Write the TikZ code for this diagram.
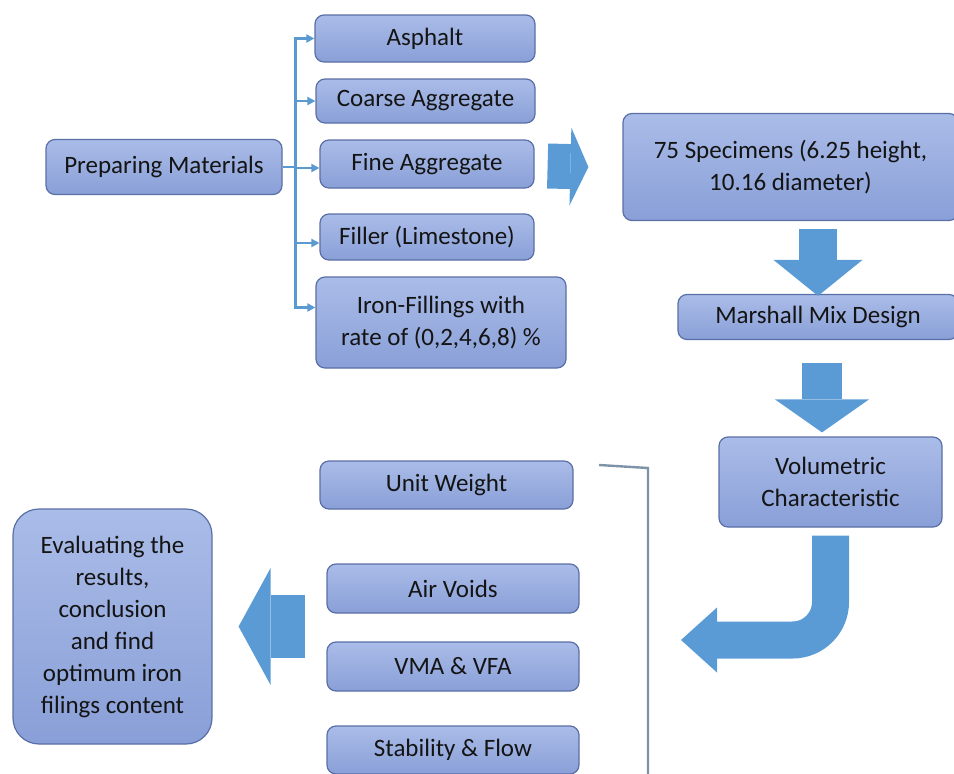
\documentclass[tikz,border=0pt]{standalone}
\usepackage{fontspec}
\setmainfont{Carlito}
\usetikzlibrary{arrows.meta}
\definecolor{textcolor}{HTML}{141414}
\definecolor{boxtop}{HTML}{AABCE8}
\definecolor{boxbottom}{HTML}{899FD7}
\definecolor{boxedge}{HTML}{5A6FA6}
\definecolor{arrowblue}{HTML}{5B9BD5}
\definecolor{linkcolor}{HTML}{5A9AD0}
\definecolor{bracketcolor}{HTML}{7D93A8}
\tikzset{
  base/.style={rounded corners=9pt, align=center, draw=boxedge, line width=1.2pt, top color=boxtop, bottom color=boxbottom, inner sep=3pt, text=textcolor, font=\fontsize{25}{32}\selectfont},
  material/.style={base, minimum width=214pt, minimum height=46pt},
  stage/.style={base, minimum width=223pt, minimum height=90pt},
  measure/.style={base, minimum width=252pt, minimum height=49pt},
  result/.style={base, rounded corners=26pt, minimum width=199pt, minimum height=235pt},
  branch/.style={-{Triangle[length=8pt,width=8pt]}, draw=linkcolor, line width=2.3pt},
  bracket/.style={draw=bracketcolor, line width=2.4pt},
  bigarrow/.style n args={3}{draw=arrowblue, line width=#1, -{Triangle[length=#2, width=#3, line width=0pt]}},
}

\begin{document}
\begin{tikzpicture}[x=1pt,y=-1pt]
  \useasboundingbox (0,0) rectangle (954,774);

  \node[base, minimum width=236pt, minimum height=55pt] (prep) at (164,167) {Preparing Materials};

  \node[material, minimum width=220pt, minimum height=47pt] (asphalt) at (425,38.5) {Asphalt};
  \node[material, minimum width=219pt, minimum height=44pt] (coarse) at (425.5,101) {Coarse Aggregate};
  \node[material, minimum height=48pt] (fine) at (427,164) {Fine Aggregate};
  \node[material] (filler) at (427,237) {Filler (Limestone)};
  \node[material, minimum width=250pt, minimum height=91pt] (iron) at (441,322.5) {Iron-Fillings with\\ rate of (0,2,4,6,8) \%};

  \draw[branch] (prep.east) -- ++(13,0) |- (asphalt.west);
  \draw[branch] (prep.east) -- ++(13,0) |- (coarse.west);
  \draw[branch] (prep.east) -- ++(13,0) |- ([yshift=-4pt]fine.west);
  \draw[branch] (prep.east) -- ++(13,0) |- ([yshift=-6pt]filler.west);
  \draw[branch] (prep.east) -- ++(13,0) |- ([yshift=15pt]iron.west);

  \node[stage, minimum width=335pt, minimum height=107pt] (spec) at (790.5,167) {75 Specimens (6.25 height,\\ 10.16 diameter)};
  \node[base, minimum width=280pt, minimum height=45pt] (marsh) at (818,317) {Marshall Mix Design};
  \node[stage] (vol) at (830.5,482) {Volumetric\\ Characteristic};

  \draw[bigarrow={45pt}{18pt}{78pt}] ([xshift=13pt,yshift=-2pt]fine.east) -- ([xshift=-34pt]spec.west);
  \draw[bigarrow={38pt}{36pt}{89pt}] ([yshift=-8pt]marsh.north |- spec.south) -- ([yshift=-2pt]marsh.north);
  \draw[bigarrow={40pt}{33pt}{94pt}] ([xshift=4pt,yshift=-23pt]marsh.south) -- ([xshift=4pt,yshift=4pt]marsh.south |- vol.north);

  \coordinate (turntip) at (681,640);
  \draw[bigarrow={37pt}{36pt}{65pt}] ([yshift=-8pt]vol.south) [rounded corners=38pt] |- (turntip);

  \node[measure, minimum width=253pt, minimum height=48pt] (unit) at (446.5,485) {Unit Weight};
  \node[measure] (air) at (453,588.5) {Air Voids};
  \node[measure] (vma) at (453,666.5) {VMA \& VFA};
  \node[measure, minimum height=48pt] (stab) at (453,750) {Stability \& Flow};

  \coordinate (brtop) at (599,465);
  \coordinate (brbottom) at (648,776);
  \draw[bracket] (brtop) -- (648,468) -- (brbottom);

  \node[result] (eval) at (112.5,626.5) {Evaluating the\\ results,\\ conclusion\\ and find\\ optimum iron\\ filings content};

  \draw[bigarrow={63pt}{32pt}{117pt}] ([xshift=-21pt]air.west |- eval.east) -- ([xshift=26pt]eval.east);
\end{tikzpicture}
\end{document}
